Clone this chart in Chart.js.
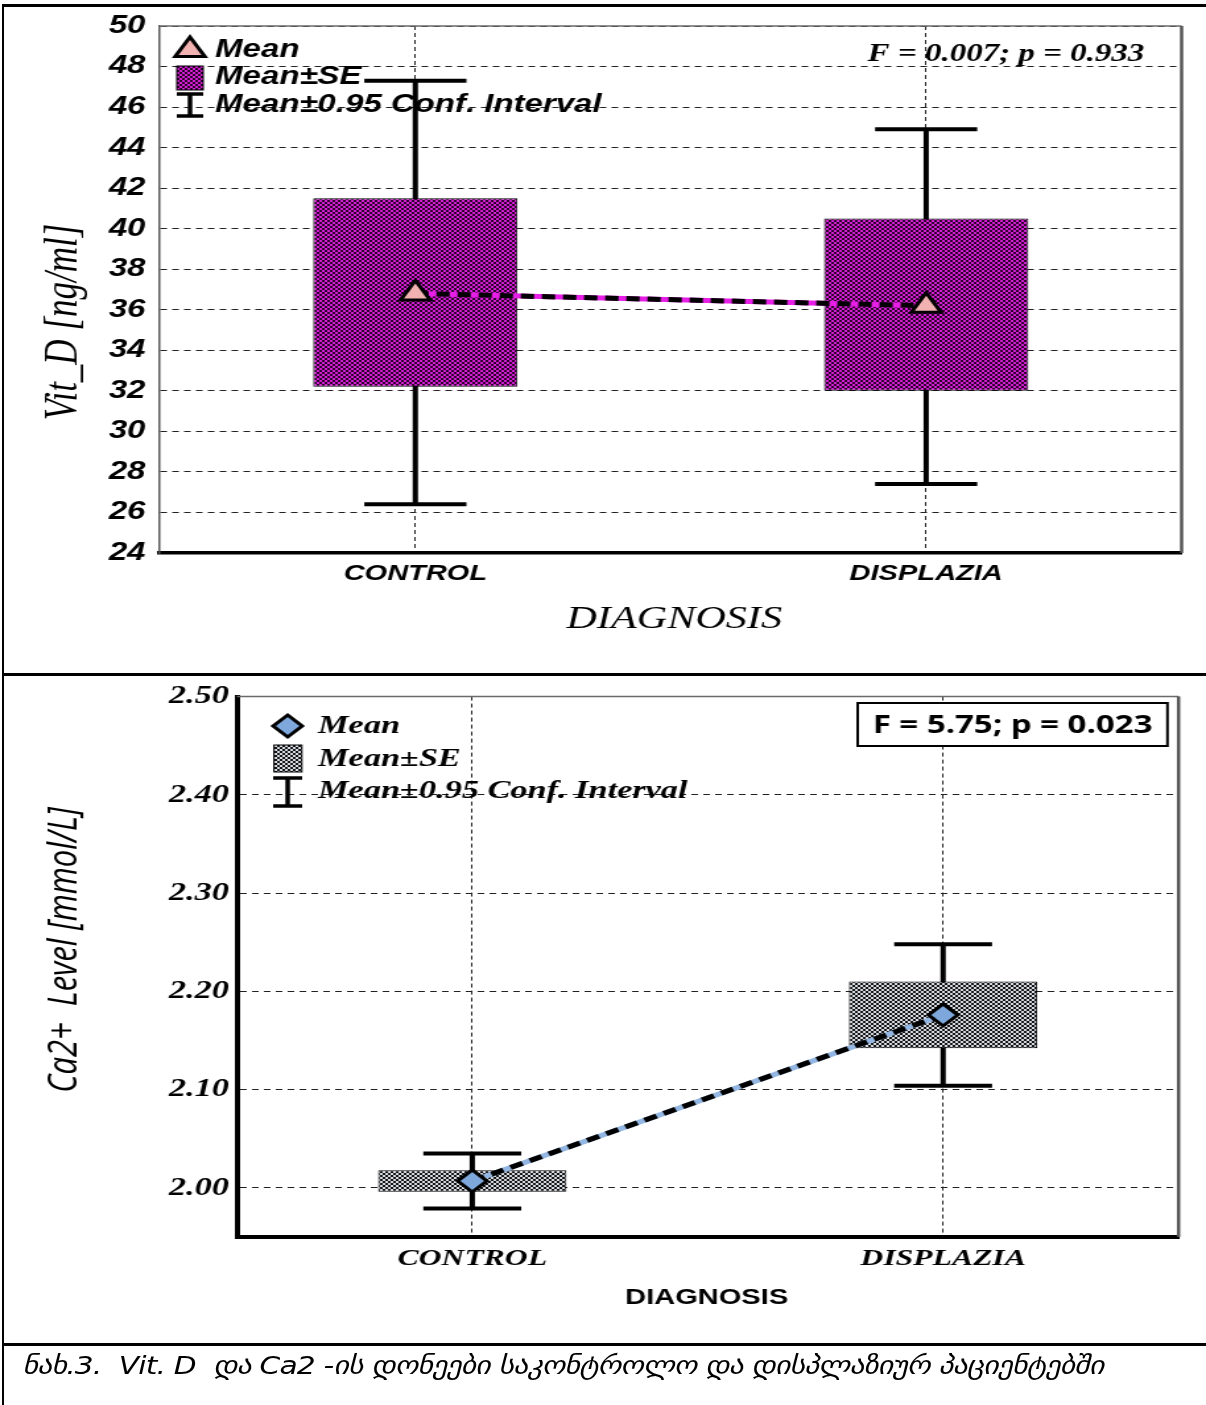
<!DOCTYPE html>
<html>
<head>
<meta charset="utf-8">
<script src="https://cdn.jsdelivr.net/npm/chart.js@4.4.1/dist/chart.umd.min.js"></script>
<style>
  html, body { margin: 0; padding: 0; background: #fff; overflow: hidden; }
  body { width: 1206px; height: 1405px; position: relative; }
  /* the figure is laid out at 914px and widened to the page width */
  #page { position: absolute; left: 0; top: 0; width: 914px; height: 1405px;
          transform: scaleX(1.31947); transform-origin: 0 0; }
  #page canvas { position: absolute; left: 0; }
  #caption { position: absolute; left: 17px; top: 1351px; line-height: 34px;
             font: italic 25px "DejaVu Sans Condensed", "DejaVu Sans", sans-serif;
             letter-spacing: -0.6px; white-space: pre; color: #000; }
  .rule { position: absolute; background: #000; }
</style>
</head>
<body>
<div id="page">
  <canvas id="vitd" width="914" height="672" style="top:0"></canvas>
  <canvas id="calc" width="914" height="668" style="top:675px"></canvas>
  <div id="caption">ნახ.3.  Vit. D  და Ca2 -ის დონეები საკონტროლო და დისპლაზიურ პაციენტებში</div>
</div>
<div class="rule" style="left:2px;top:4px;width:1204px;height:3px"></div>
<div class="rule" style="left:2px;top:4px;width:2px;height:1401px"></div>
<div class="rule" style="left:2px;top:673px;width:1204px;height:3px"></div>
<div class="rule" style="left:2px;top:1343px;width:1204px;height:3px"></div>
<script>
// ---------------- data ----------------
const categories = ['CONTROL', 'DISPLAZIA'];

// Vitamin D, ng/ml
const vitdMean   = [36.8, 36.2];
const vitdSeLow  = [32.2, 32.0];
const vitdSeHigh = [41.5, 40.5];
const vitdCiLow  = [26.4, 27.4];
const vitdCiHigh = [47.3, 44.9];
const vitdAxis   = [24, 50, 2];          // min, max, step

// Ca2+ level, mmol/L
const caMean   = [2.007, 2.176];
const caSeLow  = [1.996, 2.142];
const caSeHigh = [2.018, 2.210];
const caCiLow  = [1.979, 2.104];
const caCiHigh = [2.035, 2.248];
const caAxis   = [1.95, 2.50, 0.10];

const legendLabels = ['Mean', 'Mean±SE', 'Mean±0.95 Conf. Interval'];
const vitdStat = 'F = 0.007; p = 0.933';
const caStat   = 'F = 5.75; p = 0.023';
const xTitle   = 'DIAGNOSIS';
const vitdTitle = 'Vit_D [ng/ml]';
const caTitle   = 'Ca2+  Level [mmol/L]';

// ---------------- helpers ----------------
function checker(light, dark, cell) {
  const c = document.createElement('canvas');
  c.width = c.height = cell * 2;
  const g = c.getContext('2d');
  g.fillStyle = light; g.fillRect(0, 0, cell * 2, cell * 2);
  g.fillStyle = dark;  g.fillRect(0, 0, cell, cell); g.fillRect(cell, cell, cell, cell);
  return g.createPattern(c, 'repeat');
}

// plot frame (top/right) and the confidence-interval whiskers
function whiskers(low, high, barIndex, capFrac, lw) {
  return {
    id: 'whiskers',
    beforeDatasetsDraw(chart) {
      const { ctx, chartArea: a, scales: { x, y } } = chart;
      ctx.save();
      ctx.strokeStyle = '#6a6a6a';
      ctx.lineWidth = 1.5;
      ctx.beginPath(); ctx.moveTo(a.left, a.top); ctx.lineTo(a.right, a.top); ctx.stroke();
      ctx.strokeStyle = '#555';
      ctx.lineWidth = 2.5;
      ctx.beginPath(); ctx.moveTo(a.right, a.top); ctx.lineTo(a.right, a.bottom); ctx.stroke();

      const bars = chart.getDatasetMeta(barIndex).data;
      ctx.strokeStyle = '#000';
      ctx.lineWidth = lw;
      low.forEach((lo, i) => {
        const px = x.getPixelForValue(i);
        const half = bars[i].width * capFrac / 2;
        const y1 = y.getPixelForValue(lo), y2 = y.getPixelForValue(high[i]);
        ctx.beginPath();
        ctx.moveTo(px, y1); ctx.lineTo(px, y2);
        ctx.moveTo(px - half, y1); ctx.lineTo(px + half, y1);
        ctx.moveTo(px - half, y2); ctx.lineTo(px + half, y2);
        ctx.stroke();
      });
      ctx.restore();
    }
  };
}

function drawMarker(ctx, kind, x, y, r, fill, bw) {
  ctx.beginPath();
  if (kind === 'triangle') {
    for (let k = 0; k < 3; k++) {
      const ang = k * 2 * Math.PI / 3;
      const px = x + Math.sin(ang) * r, py = y - Math.cos(ang) * r;
      k ? ctx.lineTo(px, py) : ctx.moveTo(px, py);
    }
  } else {
    ctx.moveTo(x, y - r); ctx.lineTo(x + r, y); ctx.lineTo(x, y + r); ctx.lineTo(x - r, y);
  }
  ctx.closePath();
  ctx.fillStyle = fill; ctx.fill();
  ctx.lineWidth = bw; ctx.strokeStyle = '#000'; ctx.lineJoin = 'miter'; ctx.stroke();
}

// axis titles, statistics note and the legend
function decor(c) {
  return {
    id: 'decor',
    afterDraw(chart) {
      const ctx = chart.ctx;
      ctx.save();
      ctx.fillStyle = '#000';
      ctx.textBaseline = 'middle';

      ctx.save();
      ctx.translate(c.yTitle.x, c.yTitle.y);
      ctx.rotate(-Math.PI / 2);
      ctx.font = c.yTitle.font; ctx.textAlign = 'center';
      ctx.fillText(c.yTitle.text, 0, 0);
      ctx.restore();

      ctx.font = c.xTitle.font; ctx.textAlign = 'center';
      ctx.fillText(c.xTitle.text, c.xTitle.x, c.xTitle.y);

      ctx.font = c.stat.font;
      if (c.stat.box) {
        const b = c.stat.box;
        ctx.fillStyle = '#fff'; ctx.fillRect(b[0], b[1], b[2], b[3]);
        ctx.strokeStyle = '#000'; ctx.lineWidth = 2; ctx.strokeRect(b[0], b[1], b[2], b[3]);
        ctx.fillStyle = '#000'; ctx.textAlign = 'center';
        ctx.fillText(c.stat.text, b[0] + b[2] / 2, b[1] + b[3] / 2 + 1);
      } else {
        ctx.textAlign = 'left';
        ctx.fillText(c.stat.text, c.stat.x, c.stat.y);
      }

      const L = c.legend;
      drawMarker(ctx, L.marker, L.mx, L.rows[0], L.r, L.markerFill, 3);
      ctx.fillStyle = L.pattern;
      ctx.fillRect(L.box[0], L.box[1], L.box[2], L.box[3]);
      ctx.strokeStyle = '#000'; ctx.lineWidth = 1;
      ctx.strokeRect(L.box[0], L.box[1], L.box[2], L.box[3]);
      ctx.lineWidth = 3.5;
      ctx.beginPath();
      ctx.moveTo(L.mx, L.err[0]); ctx.lineTo(L.mx, L.err[1]);
      ctx.moveTo(L.mx - L.err[2], L.err[0]); ctx.lineTo(L.mx + L.err[2], L.err[0]);
      ctx.moveTo(L.mx - L.err[2], L.err[1]); ctx.lineTo(L.mx + L.err[2], L.err[1]);
      ctx.stroke();
      ctx.fillStyle = '#000'; ctx.font = L.font; ctx.textAlign = 'left';
      legendLabels.forEach((t, i) => ctx.fillText(t, L.tx, L.rows[i]));
      ctx.restore();
    }
  };
}

function yFont(family, size, style) {
  return { family, size, style: style || 'italic', weight: 'bold' };
}

const purple = checker('#d21fd2', '#2e002e', 2);
const grey = checker('#d6dbe3', '#151515', 2);

// ---------------- Vitamin D chart ----------------
new Chart(document.getElementById('vitd'), {
  type: 'bar',
  data: {
    labels: categories,
    datasets: [
      { type: 'line', data: vitdMean, borderColor: '#000', borderWidth: 5, borderDash: [10, 6],
        pointStyle: 'triangle', pointRadius: 13, pointBackgroundColor: '#f2b2b2',
        pointBorderColor: '#000', pointBorderWidth: 3, order: 0 },
      { type: 'line', data: vitdMean, borderColor: '#e61ee6', borderWidth: 5, pointRadius: 0, order: 1 },
      { type: 'bar', data: vitdSeLow.map((v, i) => [v, vitdSeHigh[i]]), backgroundColor: purple,
        borderColor: '#000', borderWidth: 1, borderSkipped: false,
        barPercentage: 0.4, categoryPercentage: 1, order: 2 }
    ]
  },
  options: {
    responsive: false, animation: false, events: [],
    layout: { padding: { left: 0, right: 18.5, top: 24, bottom: 0 } },
    plugins: { legend: { display: false }, tooltip: { enabled: false } },
    scales: {
      x: {
        grid: { offset: false, drawTicks: false, color: '#222', lineWidth: 1 },
        border: { color: '#000', width: 3.5, dash: [4, 3] },
        ticks: { padding: 8, color: '#000', maxRotation: 0, autoSkip: false,
                 font: yFont('"Liberation Sans"', 22) },
        afterFit(s) { s.height = 119; }
      },
      y: {
        min: vitdAxis[0], max: vitdAxis[1],
        ticks: { stepSize: vitdAxis[2], padding: 11, color: '#000',
                 font: yFont('"Liberation Sans"', 25) },
        grid: { drawTicks: false, color: '#222', lineWidth: 1 },
        border: { color: '#555', width: 1.5, dash: [5, 4] },
        afterFit(s) { s.width = 121.2; }
      }
    }
  },
  plugins: [
    whiskers(vitdCiLow, vitdCiHigh, 2, 0.5, 4),
    decor({
      yTitle: { text: vitdTitle, font: 'italic 35px "Liberation Serif"', x: 49, y: 322 },
      xTitle: { text: xTitle, font: 'italic 32px "Liberation Serif"', x: 511, y: 620 },
      stat: { text: vitdStat, font: 'italic bold 25px "Liberation Serif"', x: 657.6, y: 55 },
      legend: { marker: 'triangle', markerFill: '#f2b2b2', r: 13, mx: 144, tx: 163,
                rows: [50, 77, 105], box: [134, 66, 20, 24], err: [94, 116, 10],
                pattern: purple, font: 'italic bold 25px "Liberation Sans"' }
    })
  ]
});

// ---------------- Ca2+ chart ----------------
new Chart(document.getElementById('calc'), {
  type: 'bar',
  data: {
    labels: categories,
    datasets: [
      { type: 'line', data: caMean, borderColor: '#000', borderWidth: 5, borderDash: [10, 6],
        pointStyle: 'rectRot', pointRadius: 11, pointBackgroundColor: '#7ea8dc',
        pointBorderColor: '#000', pointBorderWidth: 3, order: 0 },
      { type: 'line', data: caMean, borderColor: '#93b7e2', borderWidth: 5, pointRadius: 0, order: 1 },
      { type: 'bar', data: caSeLow.map((v, i) => [v, caSeHigh[i]]), backgroundColor: grey,
        borderColor: '#000', borderWidth: 1, borderSkipped: false,
        barPercentage: 0.4, categoryPercentage: 1, order: 2 }
    ]
  },
  options: {
    responsive: false, animation: false, events: [],
    layout: { padding: { left: 0, right: 20.8, top: 19, bottom: 0 } },
    plugins: { legend: { display: false }, tooltip: { enabled: false } },
    scales: {
      x: {
        grid: { offset: false, drawTicks: false, color: '#222', lineWidth: 1 },
        border: { color: '#000', width: 4, dash: [4, 3] },
        ticks: { padding: 7, color: '#000', maxRotation: 0, autoSkip: false,
                 font: yFont('"Liberation Serif"', 24) },
        afterFit(s) { s.height = 106; }
      },
      y: {
        min: caAxis[0], max: caAxis[1],
        ticks: {
          stepSize: caAxis[2], padding: 6, color: '#000',
          font: yFont('"Liberation Serif"', 26),
          callback(v) {
            const k = v / caAxis[2];
            return Math.abs(k - Math.round(k)) > 1e-6 ? null : v.toFixed(2);
          }
        },
        grid: { drawTicks: false, color: '#222', lineWidth: 1 },
        border: { color: '#000', width: 4, dash: [5, 4] },
        afterFit(s) { s.width = 179.5; }
      }
    }
  },
  plugins: [
    whiskers(caCiLow, caCiHigh, 2, 0.52, 4),
    decor({
      yTitle: { text: caTitle, font: 'italic 31px "Open Sans"', x: 49, y: 275 },
      xTitle: { text: xTitle, font: 'bold 22px "Liberation Sans"', x: 535.6, y: 623 },
      stat: { text: caStat, font: 'bold 25px "Open Sans"', box: [650, 28, 234.8, 43] },
      legend: { marker: 'diamond', markerFill: '#7ea8dc', r: 11, mx: 218, tx: 241,
                rows: [51, 84, 116], box: [207.6, 70, 21.2, 27], err: [103, 131, 11],
                pattern: grey, font: 'italic bold 26px "Liberation Serif"' }
    })
  ]
});
</script>
</body>
</html>
